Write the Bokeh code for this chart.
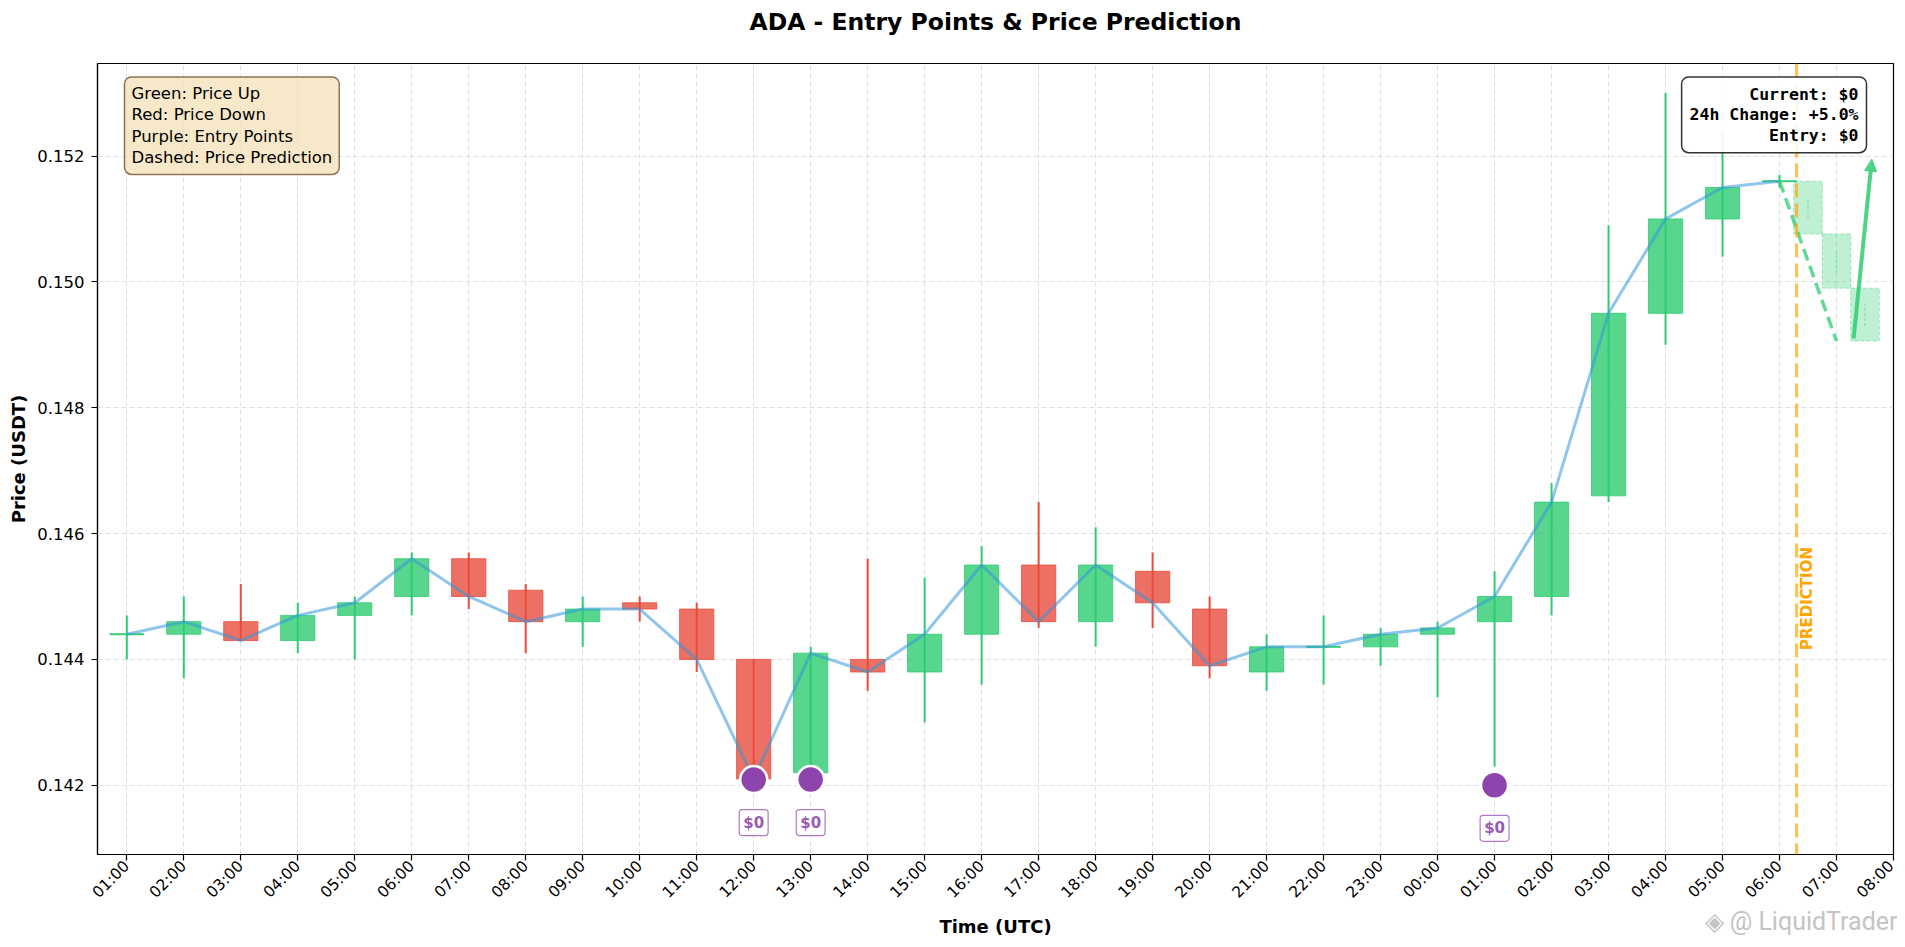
import math

from bokeh.embed import file_html
from bokeh.models import Arrow, FixedTicker, Label, NormalHead, NumeralTickFormatter, Range1d, Span
from bokeh.plotting import figure, ColumnDataSource
from bokeh.resources import INLINE

# hourly candles, index 0 = 01:00 (day 1) ... 29 = 06:00 (day 2)
tick_labels = ["01:00", "02:00", "03:00", "04:00", "05:00", "06:00", "07:00", "08:00",
               "09:00", "10:00", "11:00", "12:00", "13:00", "14:00", "15:00", "16:00",
               "17:00", "18:00", "19:00", "20:00", "21:00", "22:00", "23:00", "00:00",
               "01:00", "02:00", "03:00", "04:00", "05:00", "06:00", "07:00", "08:00"]

opens = [0.1444, 0.1444, 0.1446, 0.1443, 0.1447, 0.1450, 0.1456, 0.1451, 0.1446, 0.1449,
         0.1448, 0.1440, 0.1422, 0.1440, 0.1438, 0.1444, 0.1455, 0.1446, 0.1454, 0.1448,
         0.1438, 0.1442, 0.1442, 0.1444, 0.1446, 0.1450, 0.1466, 0.1495, 0.1510, 0.1516]
closes = [0.1444, 0.1446, 0.1443, 0.1447, 0.1449, 0.1456, 0.1450, 0.1446, 0.1448, 0.1448,
          0.1440, 0.1421, 0.1441, 0.1438, 0.1444, 0.1455, 0.1446, 0.1455, 0.1449, 0.1439,
          0.1442, 0.1442, 0.1444, 0.1445, 0.1450, 0.1465, 0.1495, 0.1510, 0.1515, 0.1516]
highs = [0.1447, 0.1450, 0.1452, 0.1449, 0.1450, 0.1457, 0.1457, 0.1452, 0.1450, 0.1450,
         0.1449, 0.1440, 0.1442, 0.1456, 0.1453, 0.1458, 0.1465, 0.1461, 0.1457, 0.1450,
         0.1444, 0.1447, 0.1445, 0.1446, 0.1454, 0.1468, 0.1509, 0.1530, 0.1524, 0.1517]
lows = [0.1440, 0.1437, 0.1443, 0.1441, 0.1440, 0.1447, 0.1448, 0.1441, 0.1442, 0.1446,
        0.1438, 0.1421, 0.1421, 0.1435, 0.1430, 0.1436, 0.1445, 0.1442, 0.1445, 0.1437,
        0.1435, 0.1436, 0.1439, 0.1434, 0.1423, 0.1447, 0.1465, 0.1490, 0.1504, 0.1515]

# entry points
entry_x = [11, 12, 24]
entry_y = [0.14209, 0.14209, 0.14200]
entry_text = ["$0", "$0", "$0"]

# prediction (30 min steps)
pred_start = 29.3
pred_x = [29.5, 30.0, 30.5]
pred_open = [0.15160, 0.15076, 0.14990]
pred_close = [0.15076, 0.14990, 0.14906]
pred_high = [0.15133, 0.15048, 0.14964]
pred_low = [0.15101, 0.15014, 0.14930]
arrow_x = [30.3, 30.62]
arrow_y = [0.14910, 0.15195]

GREEN = "#2ecc71"
RED = "#e74c3c"
FONT = "DejaVu Sans"

idx = list(range(len(closes)))
colors = [GREEN if c >= o else RED for o, c in zip(opens, closes)]
src = ColumnDataSource(data=dict(
    x=idx, top=[max(o, c) for o, c in zip(opens, closes)],
    bottom=[min(o, c) for o, c in zip(opens, closes)],
    high=highs, low=lows, color=colors))

p = figure(width=1897, height=939, title=None,
           x_range=Range1d(-0.514, 31.0), y_range=Range1d(0.14090, 0.15347),
           output_backend="svg", toolbar_location=None,
           min_border_left=97, min_border_right=4, min_border_top=63, min_border_bottom=82)

p.outline_line_color = "black"
p.outline_line_width = 1.2
p.outline_line_alpha = 1

p.xaxis.ticker = FixedTicker(ticks=list(range(len(tick_labels))))
p.xaxis.major_label_overrides = {i: t for i, t in enumerate(tick_labels)}
p.xaxis.major_label_orientation = math.pi / 4
p.yaxis.ticker = FixedTicker(ticks=[0.142, 0.144, 0.146, 0.148, 0.150, 0.152])
p.yaxis.formatter = NumeralTickFormatter(format="0.000")

p.xaxis.axis_label = "Time (UTC)"
p.yaxis.axis_label = "Price (USDT)"
for ax in (p.xaxis, p.yaxis):
    ax.axis_label_text_font = FONT
    ax.axis_label_text_font_style = "bold"
    ax.axis_label_text_font_size = "18px"
    ax.axis_label_text_color = "black"
    ax.major_label_text_font = FONT
    ax.major_label_text_color = "black"
    ax.axis_line_color = "black"
    ax.axis_line_width = 1.2
    ax.major_tick_line_color = "black"
    ax.major_tick_line_width = 1.2
    ax.major_tick_out = 6
    ax.major_tick_in = 0
    ax.minor_tick_line_color = None
p.xaxis.major_label_text_font_size = "15.5px"
p.yaxis.major_label_text_font_size = "16.5px"
p.xaxis.major_label_standoff = 3
p.yaxis.major_label_standoff = 7
p.yaxis.axis_label_standoff = 5
p.xaxis.axis_label_standoff = 5

p.grid.grid_line_color = "#cccccc"
p.grid.grid_line_alpha = 0.6
p.grid.grid_line_dash = "5 3"

# candles
p.segment(x0="x", y0="low", x1="x", y1="high", line_color="color", line_width=2, source=src)
p.vbar(x="x", width=0.6, top="top", bottom="bottom", fill_color="color", line_color="color",
       fill_alpha=0.8, line_alpha=0.8, line_width=1, source=src)
doji = [i for i in idx if opens[i] == closes[i]]
p.segment(x0=[i - 0.3 for i in doji], x1=[i + 0.3 for i in doji],
          y0=[closes[i] for i in doji], y1=[closes[i] for i in doji],
          line_color=GREEN, line_alpha=0.8, line_width=2)

# close line
p.line(idx, closes, line_color="#3498db", line_alpha=0.55, line_width=3)

# prediction candles
p.segment(x0=pred_x, x1=pred_x, y0=pred_low, y1=pred_high, line_color=GREEN,
          line_alpha=0.35, line_width=1.5, line_dash="3 2")
p.vbar(x=pred_x, width=0.5, top=[max(a, b) for a, b in zip(pred_open, pred_close)],
       bottom=[min(a, b) for a, b in zip(pred_open, pred_close)],
       fill_color=GREEN, fill_alpha=0.3, line_color=GREEN, line_alpha=0.4, line_dash="4 2")
p.line([idx[-1], pred_x[1]], [closes[-1], pred_close[-1]], line_color=GREEN, line_alpha=0.75,
       line_width=3.5, line_dash="12 6")
p.add_layout(Arrow(end=NormalHead(size=12, fill_color=GREEN, fill_alpha=0.85,
                                  line_color=GREEN, line_alpha=0.85),
                   x_start=arrow_x[0], y_start=arrow_y[0], x_end=arrow_x[1], y_end=arrow_y[1],
                   line_color=GREEN, line_alpha=0.85, line_width=4))

p.add_layout(Span(location=pred_start, dimension="height", line_color="orange",
                  line_alpha=0.7, line_width=3, line_dash="14 6"))
p.add_layout(Label(x=pred_start, y=0.14415, text="PREDICTION", angle=math.pi / 2,
                   text_align="left", text_baseline="top", x_offset=1,
                   text_color="orange", text_font=FONT, text_font_style="bold",
                   text_font_size="15px"))

# entry points
p.scatter(entry_x, entry_y, size=27, fill_color="#8e44ad", line_color="white", line_width=2.5)
for ex, ey, et in zip(entry_x, entry_y, entry_text):
    p.add_layout(Label(x=ex, y=ey, y_offset=-43, text=et, text_align="center",
                       text_baseline="middle", text_color="#9b59b6", text_font=FONT,
                       text_font_style="bold", text_font_size="15px",
                       background_fill_color="white", border_line_color="#9b59b6",
                       border_line_alpha=0.8, border_line_width=1.2, border_radius=3, padding=4))

# legend box
p.add_layout(Label(x=27, y=777.5, x_units="screen", y_units="screen",
                   text="Green: Price Up\nRed: Price Down\nPurple: Entry Points\nDashed: Price Prediction",
                   text_align="left", text_baseline="top", text_font=FONT, text_font_size="16.5px",
                   text_line_height=1.13, text_color="black",
                   background_fill_color="wheat", background_fill_alpha=0.7,
                   border_line_color="#8b7355", border_line_width=1.5, border_radius=7, padding=7))

# info box
p.add_layout(Label(x=1769, y=777.5, x_units="screen", y_units="screen",
                   text="Current: $0\n24h Change: +5.0%\nEntry: $0",
                   text_align="right", text_baseline="top", text_font="DejaVu Sans Mono",
                   text_font_style="bold", text_font_size="16.5px", text_line_height=1.07,
                   text_color="black", background_fill_color="white", background_fill_alpha=0.9,
                   border_line_color="#333333", border_line_width=1.5, border_radius=7, padding=8))

# title and watermark sit in the top side panel so they are not clipped to the frame
p.add_layout(Label(x=898, y=41.5, x_units="screen", y_units="screen",
                   text="ADA - Entry Points & Price Prediction", text_align="center",
                   text_baseline="middle", text_font=FONT, text_font_style="bold",
                   text_font_size="23.5px", text_color="black"), "above")
p.add_layout(Label(x=1800, y=-886, x_units="screen", y_units="screen", text="◈ @ LiquidTrader",
                   text_align="right", text_baseline="middle", text_color="#c4c4c4",
                   text_font="Roboto", text_font_size="25px"), "above")

open("out.html", "w").write(file_html(p, INLINE))
